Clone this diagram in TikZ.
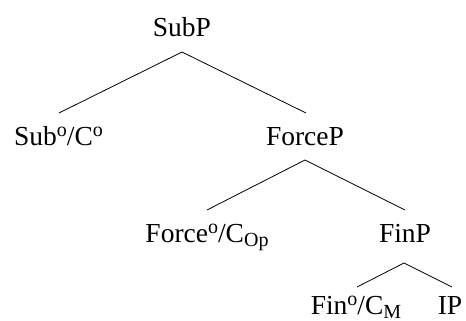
\documentclass[tikz,border=0pt]{standalone}
\usepackage{fontspec}
\setmainfont{Liberation Serif}
\newcommand{\supo}{\raisebox{8.5pt}{\fontsize{20}{22}\selectfont o}}
\newcommand{\subx}[1]{\raisebox{-4.5pt}{\fontsize{20}{22}\selectfont #1}}
\begin{document}
\begin{tikzpicture}[x=1pt,y=-1pt]
\tikzset{lab/.style={anchor=base,inner sep=0pt,font=\fontsize{27.5}{30}\selectfont},
  edge/.style={draw,line width=0.8pt}}
\useasboundingbox (0,0) rectangle (466,321);
\node[lab] (subp) at (182,37) {SubP};
\node[lab] (subc) at (58.5,145) {Sub\supo/C\supo};
\node[lab] (forcep) at (305,145) {ForceP};
\node[lab] (forcec) at (207,242) {Force\supo/C\subx{Op}};
\node[lab] (finp) at (405,242) {FinP};
\node[lab] (finc) at (356,314) {Fin\supo/C\subx{M}};
\node[lab] (ip) at (450,314) {IP};
\coordinate (a1) at (182,52);
\coordinate (b1) at (59,113);
\coordinate (c1) at (306,113);
\coordinate (a2) at (305,160);
\coordinate (b2) at (207,210);
\coordinate (c2) at (405,210);
\coordinate (a3) at (404,263);
\coordinate (b3) at (357,287);
\coordinate (c3) at (452,287);
\draw[edge] (b1) -- (a1) -- (c1);
\draw[edge] (b2) -- (a2) -- (c2);
\draw[edge] (b3) -- (a3) -- (c3);
\end{tikzpicture}
\end{document}
